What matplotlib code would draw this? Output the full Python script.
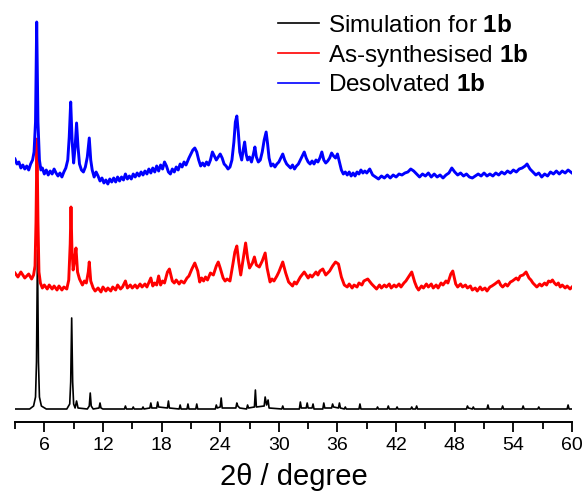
import matplotlib
matplotlib.use("Agg")
import matplotlib.pyplot as plt
from matplotlib.ticker import MultipleLocator

plt.rcParams['font.family'] = ['Liberation Sans', 'DejaVu Sans']
plt.rcParams['mathtext.fontset'] = 'custom'
plt.rcParams['mathtext.rm'] = 'Liberation Sans'
plt.rcParams['mathtext.bf'] = 'Liberation Sans:bold'

# simulated pattern (2theta, intensity incl. vertical offset)
sim_pts = [
    (3.0, 13), (4.5, 13), (4.9, 16), (5.1, 25), (5.2, 60), (5.3, 172), (5.4, 60), (5.5, 25),
    (5.7, 16), (6.2, 13), (8.3, 13), (8.6, 18), (8.7, 40), (8.8, 104), (8.9, 40), (9.0, 18),
    (9.15, 14), (9.3, 21), (9.45, 14), (10.4, 13), (10.6, 16), (10.7, 29), (10.8, 16), (11.0, 13),
    (11.6, 14), (11.7, 19), (11.8, 14), (12.0, 13), (14.2, 13), (14.3, 16), (14.4, 13), (15.0, 13),
    (15.1, 15), (15.2, 13), (16.0, 13), (16.1, 15), (16.2, 13), (16.8, 14), (16.9, 19), (17.0, 14),
    (17.5, 14), (17.6, 20), (17.7, 15), (18.6, 14), (18.7, 21), (18.8, 14), (19.8, 13), (19.9, 17),
    (20.0, 13), (20.6, 13), (20.7, 18), (20.8, 13), (21.5, 13), (21.6, 18), (21.7, 13), (23.5, 13),
    (23.6, 17), (23.7, 14), (24.0, 15), (24.1, 24), (24.2, 14), (25.6, 14), (25.7, 19), (25.8, 16),
    (26.0, 14), (26.7, 13), (26.8, 17), (26.9, 14), (27.5, 15), (27.6, 32), (27.7, 15), (28.5, 16),
    (28.6, 25), (28.75, 17), (28.9, 22), (29.0, 14), (30.3, 13), (30.4, 16), (30.5, 13), (32.1, 13),
    (32.2, 20), (32.3, 14), (32.8, 14), (32.9, 19), (33.0, 14), (33.4, 14), (33.5, 18), (33.6, 13),
    (34.5, 13), (34.6, 19), (34.7, 14), (35.4, 14), (35.5, 18), (35.6, 15), (36.1, 14), (36.2, 19),
    (36.3, 14), (36.7, 13), (36.8, 15), (36.9, 13), (38.2, 13), (38.3, 18), (38.4, 13), (40.0, 13),
    (40.1, 15), (40.2, 13), (41.1, 13), (41.2, 16), (41.3, 13), (42.0, 13), (42.1, 15), (42.2, 13),
    (43.5, 13), (43.6, 15), (43.7, 13), (44.0, 13), (44.1, 16), (44.2, 13), (49.2, 13), (49.3, 16),
    (49.4, 14), (49.8, 13), (49.9, 15), (50.0, 13), (51.3, 13), (51.4, 17), (51.5, 13), (52.8, 13),
    (52.9, 16), (53.0, 13), (54.9, 13), (55.0, 16), (55.1, 13), (56.5, 13), (56.6, 15), (56.7, 13),
    (59.5, 13), (59.6, 17), (59.7, 13), (60.0, 13),
]

# as-synthesised sample
as_pts = [
    (3.0, 149), (3.3, 145), (3.6, 150), (4.0, 144), (4.4, 148), (4.7, 143), (4.9, 147), (5.05, 156),
    (5.15, 200), (5.25, 283), (5.35, 200), (5.45, 150), (5.6, 139), (5.8, 134), (6.0, 137), (6.3, 133),
    (6.5, 137), (6.8, 133), (7.0, 136), (7.3, 132), (7.5, 136), (7.8, 132), (8.0, 135), (8.3, 133),
    (8.5, 142), (8.65, 178), (8.73, 215), (8.82, 175), (8.95, 152), (9.1, 162), (9.24, 174), (9.4, 150),
    (9.6, 143), (9.9, 137), (10.1, 141), (10.3, 139), (10.5, 150), (10.6, 160), (10.75, 141), (11.0, 134),
    (11.2, 131), (11.5, 134), (11.8, 130), (12.0, 135), (12.3, 131), (12.5, 134), (12.8, 131), (13.0, 135),
    (13.3, 132), (13.5, 137), (13.8, 133), (14.0, 135), (14.3, 141), (14.5, 134), (14.8, 137), (15.0, 134),
    (15.3, 137), (15.5, 134), (15.8, 138), (16.0, 135), (16.3, 138), (16.5, 135), (16.9, 144), (17.1, 136),
    (17.3, 139), (17.5, 137), (17.7, 146), (17.9, 137), (18.1, 141), (18.3, 139), (18.6, 150), (18.8, 153),
    (19.1, 141), (19.3, 139), (19.5, 142), (19.8, 138), (20.0, 141), (20.3, 139), (20.6, 144), (20.8, 146),
    (21.1, 153), (21.4, 159), (21.7, 151), (21.9, 140), (22.1, 144), (22.3, 141), (22.5, 145), (22.7, 142),
    (23.0, 149), (23.3, 147), (23.6, 156), (23.8, 160), (24.0, 154), (24.3, 144), (24.5, 141), (24.7, 143),
    (25.0, 141), (25.3, 158), (25.5, 170), (25.7, 176), (25.9, 160), (26.1, 147), (26.4, 166), (26.6, 179),
    (26.8, 164), (27.0, 154), (27.3, 159), (27.5, 165), (27.7, 157), (28.0, 155), (28.3, 161), (28.6, 169),
    (28.8, 154), (29.1, 140), (29.3, 143), (29.5, 141), (29.8, 146), (30.0, 150), (30.4, 160), (30.7, 149),
    (31.0, 140), (31.2, 138), (31.4, 136), (31.6, 140), (31.8, 138), (32.2, 145), (32.6, 150), (33.0, 144),
    (33.2, 147), (33.4, 145), (33.8, 150), (34.0, 147), (34.2, 151), (34.5, 153), (34.8, 147), (35.0, 149),
    (35.2, 151), (35.5, 156), (35.8, 160), (36.1, 158), (36.4, 145), (36.7, 137), (37.0, 135), (37.2, 138),
    (37.5, 134), (37.7, 137), (38.0, 135), (38.2, 139), (38.5, 137), (38.7, 141), (39.1, 143), (39.5, 138),
    (39.8, 135), (40.0, 133), (40.3, 137), (40.5, 134), (40.8, 137), (41.0, 135), (41.3, 138), (41.5, 134),
    (41.8, 137), (42.0, 135), (42.3, 138), (42.5, 135), (42.8, 139), (43.0, 141), (43.4, 147), (43.6, 150),
    (43.9, 140), (44.1, 135), (44.3, 132), (44.6, 136), (44.8, 134), (45.1, 138), (45.3, 135), (45.6, 138),
    (45.8, 134), (46.1, 137), (46.3, 134), (46.6, 139), (46.8, 137), (47.1, 141), (47.3, 139), (47.6, 148),
    (47.8, 151), (48.1, 138), (48.3, 135), (48.6, 138), (48.8, 135), (49.1, 137), (49.3, 134), (49.6, 136),
    (49.8, 132), (50.1, 134), (50.3, 131), (50.6, 135), (50.8, 132), (51.1, 134), (51.3, 131), (51.6, 135),
    (51.8, 136), (52.1, 138), (52.5, 141), (52.7, 137), (52.9, 135), (53.2, 138), (53.4, 136), (53.7, 140),
    (53.9, 141), (54.3, 144), (54.5, 142), (54.7, 146), (55.0, 147), (55.3, 150), (55.6, 144), (55.8, 142),
    (56.0, 139), (56.2, 137), (56.4, 135), (56.7, 138), (56.9, 136), (57.2, 139), (57.4, 137), (57.6, 141),
    (57.8, 140), (58.0, 142), (58.2, 139), (58.4, 137), (58.6, 139), (58.8, 135), (59.0, 137), (59.3, 134),
    (59.5, 136), (59.8, 133), (60.0, 135),
]

# desolvated sample
des_pts = [
    (3.0, 263), (3.2, 258), (3.4, 260), (3.6, 254), (3.8, 257), (4.0, 253), (4.2, 256), (4.4, 252),
    (4.6, 258), (4.8, 262), (4.95, 270), (5.1, 300), (5.22, 400), (5.35, 300), (5.5, 262), (5.65, 252),
    (5.8, 254), (6.0, 248), (6.2, 252), (6.4, 247), (6.6, 251), (6.8, 248), (7.0, 253), (7.2, 249),
    (7.4, 246), (7.6, 249), (7.8, 245), (8.0, 250), (8.2, 254), (8.4, 262), (8.55, 285), (8.7, 320),
    (8.85, 280), (9.0, 259), (9.15, 275), (9.3, 299), (9.45, 275), (9.6, 258), (9.8, 252), (10.0, 250),
    (10.2, 255), (10.4, 265), (10.6, 284), (10.75, 262), (10.9, 252), (11.1, 245), (11.3, 250), (11.5, 246),
    (11.7, 241), (11.9, 244), (12.1, 239), (12.3, 242), (12.5, 238), (12.7, 243), (12.9, 240), (13.1, 244),
    (13.3, 240), (13.5, 245), (13.7, 241), (13.9, 245), (14.1, 242), (14.3, 248), (14.5, 243), (14.7, 246),
    (14.9, 243), (15.1, 248), (15.3, 245), (15.5, 249), (15.7, 246), (15.9, 250), (16.1, 247), (16.3, 251),
    (16.5, 248), (16.7, 253), (16.9, 249), (17.1, 254), (17.3, 250), (17.5, 256), (17.7, 251), (17.9, 257),
    (18.1, 253), (18.3, 260), (18.5, 256), (18.7, 250), (18.9, 248), (19.1, 253), (19.3, 250), (19.5, 255),
    (19.7, 252), (19.9, 258), (20.1, 255), (20.3, 260), (20.5, 257), (20.8, 264), (21.0, 268), (21.2, 272),
    (21.4, 274), (21.6, 270), (21.8, 262), (22.0, 256), (22.2, 259), (22.4, 256), (22.6, 260), (22.8, 257),
    (23.0, 262), (23.2, 270), (23.4, 266), (23.6, 262), (23.8, 265), (24.0, 268), (24.2, 264), (24.4, 258),
    (24.6, 256), (24.8, 253), (25.0, 255), (25.2, 262), (25.4, 280), (25.55, 300), (25.7, 306), (25.85, 290),
    (26.0, 270), (26.2, 262), (26.35, 272), (26.5, 280), (26.65, 268), (26.8, 262), (27.0, 265), (27.2, 260),
    (27.4, 268), (27.55, 275), (27.7, 265), (27.9, 260), (28.1, 262), (28.3, 270), (28.5, 282), (28.7, 290),
    (28.85, 278), (29.0, 264), (29.2, 256), (29.4, 258), (29.6, 255), (29.8, 258), (30.0, 260), (30.2, 264),
    (30.4, 268), (30.6, 262), (30.8, 258), (31.0, 256), (31.2, 254), (31.4, 257), (31.6, 253), (31.8, 256),
    (32.0, 258), (32.2, 262), (32.4, 266), (32.6, 270), (32.8, 264), (33.0, 260), (33.2, 258), (33.4, 261),
    (33.6, 258), (33.8, 262), (34.0, 260), (34.2, 264), (34.4, 270), (34.6, 262), (34.8, 259), (35.0, 261),
    (35.2, 264), (35.4, 269), (35.6, 266), (35.8, 264), (36.0, 268), (36.2, 260), (36.4, 252), (36.6, 248),
    (36.8, 250), (37.0, 247), (37.2, 250), (37.4, 246), (37.6, 249), (37.8, 246), (38.0, 250), (38.2, 248),
    (38.4, 252), (38.6, 249), (38.8, 251), (39.0, 249), (39.3, 253), (39.6, 247), (39.9, 245), (40.2, 243),
    (40.5, 246), (40.8, 244), (41.1, 247), (41.4, 244), (41.7, 247), (42.0, 245), (42.3, 248), (42.6, 247),
    (42.9, 249), (43.2, 250), (43.5, 253), (43.8, 251), (44.1, 248), (44.4, 245), (44.7, 248), (45.0, 246),
    (45.3, 249), (45.6, 245), (45.9, 248), (46.2, 245), (46.5, 247), (46.8, 244), (47.1, 247), (47.4, 249),
    (47.7, 254), (48.0, 250), (48.3, 247), (48.6, 249), (48.9, 246), (49.2, 248), (49.5, 245), (49.8, 244),
    (50.1, 246), (50.4, 248), (50.7, 246), (51.0, 249), (51.3, 246), (51.6, 248), (51.9, 246), (52.2, 249),
    (52.5, 247), (52.8, 250), (53.1, 248), (53.4, 251), (53.7, 249), (54.0, 252), (54.3, 250), (54.6, 253),
    (54.9, 254), (55.2, 256), (55.4, 258), (55.7, 253), (56.0, 250), (56.3, 247), (56.6, 249), (56.9, 245),
    (57.2, 248), (57.5, 246), (57.8, 250), (58.1, 248), (58.4, 251), (58.7, 248), (59.0, 251), (59.3, 249),
    (59.6, 252), (60.0, 249),
]

labels = [r"Simulation for $\mathbf{1b}$", r"As-synthesised $\mathbf{1b}$", r"Desolvated $\mathbf{1b}$"]
colors = ["black", "#ff0000", "#0000ff"]
xticks = [6, 12, 18, 24, 30, 36, 42, 48, 54, 60]

fig = plt.figure(figsize=(5.87, 4.95), dpi=100)
ax = fig.add_axes([15 / 587, 73 / 495, 557 / 587, 412 / 495])

for pts, lab, col, lw in zip([sim_pts, as_pts, des_pts], labels, colors, [1.2, 2.1, 2.1]):
    xs, ys = zip(*pts)
    ax.plot(xs, ys, color=col, lw=lw, label=lab)

ax.set_xlim(3, 60)
ax.set_ylim(0, 412)
ax.set_xticks(xticks)
ax.xaxis.set_minor_locator(MultipleLocator(3))
ax.tick_params(axis='x', which='major', direction='out', length=7, width=1.3, labelsize=14, pad=4)
ax.tick_params(axis='x', which='minor', direction='out', length=5, width=1.3)
ax.set_yticks([])
for s in ['left', 'top', 'right']:
    ax.spines[s].set_visible(False)
ax.spines['bottom'].set_linewidth(1.4)
ax.set_xlabel("2θ / degree", fontsize=21, labelpad=6)

leg = ax.legend(loc='upper left', bbox_to_anchor=(266 / 587, 0.995), bbox_transform=fig.transFigure,
                frameon=False, fontsize=17.5, handlelength=1.7, handletextpad=0.35, labelspacing=0.22,
                borderaxespad=0.1)
for h in leg.get_lines():
    h.set_linewidth(1.2)

fig.savefig("out.png", dpi=100)
